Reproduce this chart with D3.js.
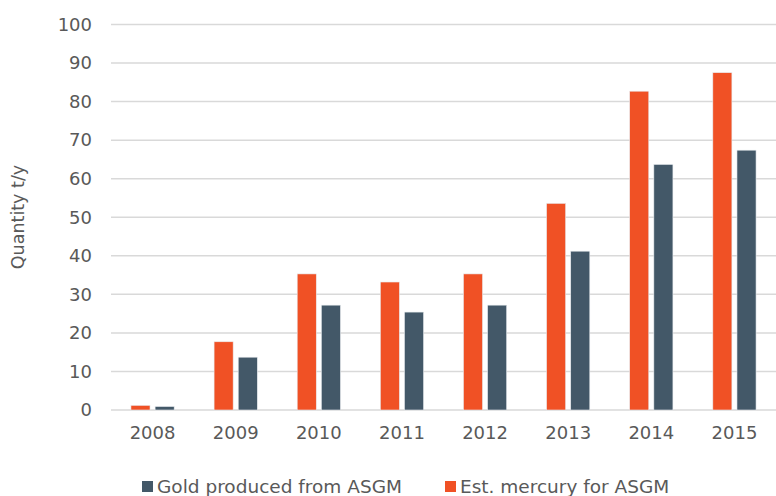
<!DOCTYPE html>
<html>
<head>
<meta charset="utf-8">
<script src="https://cdn.jsdelivr.net/npm/d3@7"></script>
<style>
  body { margin: 0; background: #fff; }
  text { font-family: "DejaVu Sans", Verdana, sans-serif; fill: #595959; }
</style>
</head>
<body>
<div id="chart"></div>
<script>
// Chart data
const years = ["2008", "2009", "2010", "2011", "2012", "2013", "2014", "2015"];
const mercury = [1.2, 17.7, 35.3, 33.2, 35.3, 53.6, 82.7, 87.5];
const gold = [0.9, 13.7, 27.2, 25.4, 27.2, 41.2, 63.7, 67.4];
const yTicks = [0, 10, 20, 30, 40, 50, 60, 70, 80, 90, 100];
const seriesNames = ["Est. mercury for ASGM", "Gold produced from ASGM"];
const legendOrder = ["Gold produced from ASGM", "Est. mercury for ASGM"];

const w = 776;
const h = 496;
const margin = {top: 24.5, right: 0, bottom: 86, left: 111};

const colors = {
  "Est. mercury for ASGM": "#f05125",
  "Gold produced from ASGM": "#435868"
};

const svg = d3.select("#chart")
  .append("svg")
  .attr("width", w)
  .attr("height", h);

const xScale = d3.scaleBand()
  .domain(years)
  .range([margin.left, w - margin.right])
  .paddingInner(0.48)
  .paddingOuter(0.24);

const xInner = d3.scaleBand()
  .domain(seriesNames)
  .range([0, xScale.bandwidth()])
  .paddingInner(0.21);

const yScale = d3.scaleLinear()
  .domain([0, 100])
  .range([h - margin.bottom, margin.top]);

// gridlines
svg.append("g")
  .selectAll("line")
  .data(yTicks)
  .enter()
  .append("line")
  .attr("x1", margin.left)
  .attr("x2", w - margin.right)
  .attr("y1", d => yScale(d))
  .attr("y2", d => yScale(d))
  .attr("stroke", "#d9d9d9")
  .attr("stroke-width", 1.5);

// y axis labels
const yAxis = d3.axisLeft(yScale).tickValues(yTicks).tickSize(0).tickPadding(19);
svg.append("g")
  .attr("transform", "translate(" + margin.left + ",0)")
  .call(yAxis)
  .call(g => g.select(".domain").remove())
  .selectAll("text")
  .style("font-size", "18px")
  .attr("fill", "#595959");

// x axis labels
const xAxis = d3.axisBottom(xScale.copy().paddingInner(0).paddingOuter(0)).tickSize(0).tickPadding(16);
svg.append("g")
  .attr("transform", "translate(0," + (h - margin.bottom) + ")")
  .call(xAxis)
  .call(g => g.select(".domain").remove())
  .selectAll("text")
  .style("font-size", "18px")
  .attr("fill", "#595959");

// bars
const rows = years.map((y, i) => ({year: y, values: [
  {name: seriesNames[0], value: mercury[i]},
  {name: seriesNames[1], value: gold[i]}
]}));

const groups = svg.selectAll(".yearGroup")
  .data(rows)
  .enter()
  .append("g")
  .attr("class", "yearGroup")
  .attr("transform", d => "translate(" + xScale(d.year) + ",0)");

groups.selectAll("rect")
  .data(d => d.values)
  .enter()
  .append("rect")
  .attr("x", d => xInner(d.name))
  .attr("y", d => yScale(d.value))
  .attr("width", xInner.bandwidth())
  .attr("height", d => yScale(0) - yScale(d.value))
  .attr("fill", d => colors[d.name])
  .attr("stroke", "#e8ecef")
  .attr("stroke-width", 0.6);

// y axis title
svg.append("text")
  .attr("transform", "translate(24," + 217 + ") rotate(-90)")
  .attr("text-anchor", "middle")
  .style("font-size", "17.5px")
  .text("Quantity t/y");

// legend
const legendX = [142, 445];
const legend = svg.selectAll(".legendItem")
  .data(legendOrder)
  .enter()
  .append("g")
  .attr("class", "legendItem")
  .attr("transform", (d, i) => "translate(" + legendX[i] + ",481)");

legend.append("rect")
  .attr("width", 11)
  .attr("height", 11)
  .attr("fill", d => colors[d]);

legend.append("text")
  .attr("x", 15)
  .attr("y", 12)
  .style("font-size", "18.5px")
  .text(d => d);
</script>
</body>
</html>
